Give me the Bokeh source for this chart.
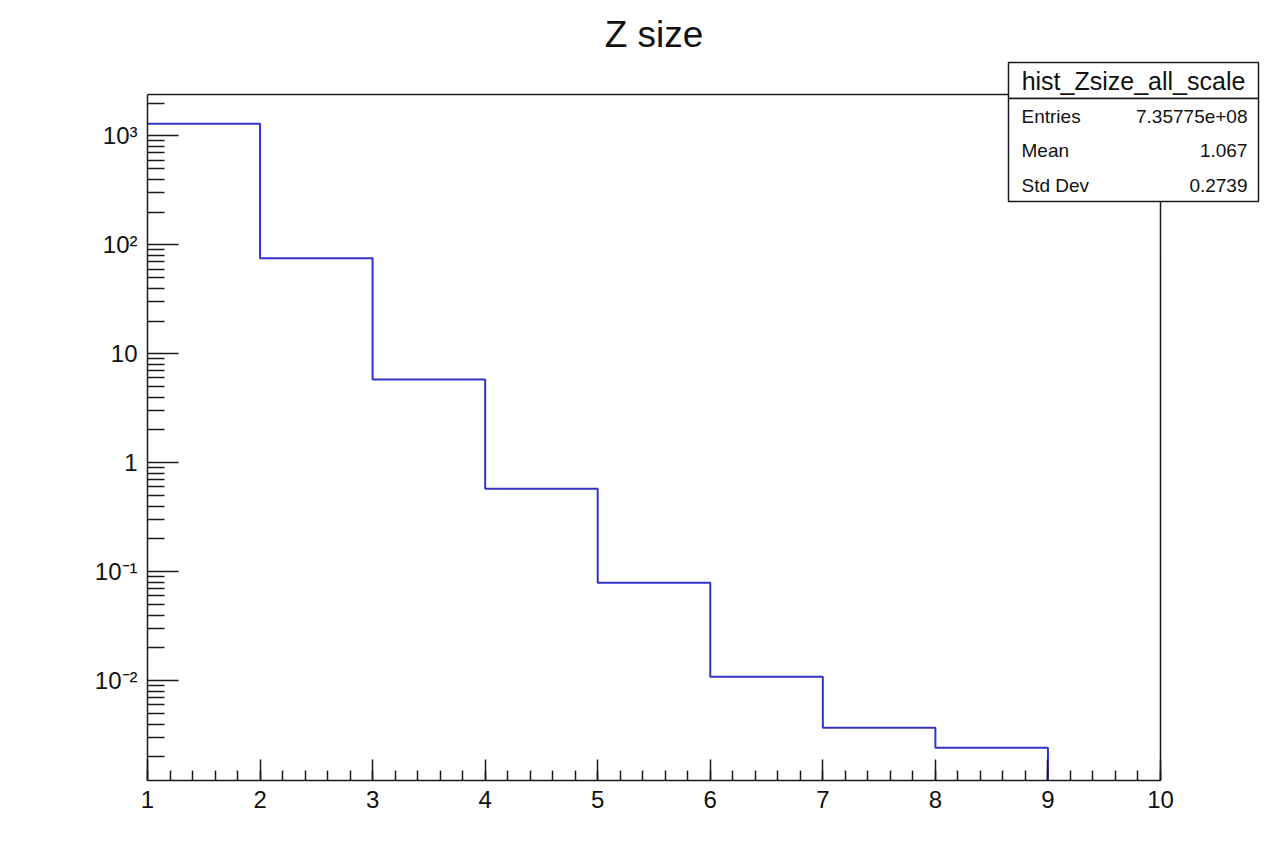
import math
from bokeh.plotting import figure
from bokeh.models import Range1d, FixedTicker, SingleIntervalTicker, BoxAnnotation, Label
from bokeh.embed import file_html
from bokeh.resources import INLINE

# ---- data ----
bin_edges = [1, 2, 3, 4, 5, 6, 7, 8, 9, 10]
bin_counts = [1288, 75.3, 5.81, 0.577, 0.0793, 0.0109, 0.00371, 0.00243, 0]
x_min, x_max = 1, 10
y_min, y_max = 0.001216, 2395

y_major = [1e-2, 1e-1, 1, 10, 100, 1000]
y_labels = ["10\u207b\u00b2", "10\u207b\u00b9", "1", "10", "10\u00b2", "10\u00b3"]
x_major_interval = 1

chart_title = "Z size"
stats_title = "hist_Zsize_all_scale"
stats_names = ["Entries", "Mean", "Std Dev"]
stats_values = ["7.35775e+08", "1.067", "0.2739"]

FONT = "Liberation Sans"
LINE = "#3333cc"
DARK = "#1a1a1a"

# ---- layout (page pixels) ----
W, H = 1268, 860
AX_L, AX_R, AX_T, AX_B = 147, 1160, 94, 780     # the visible axes box
FR_T = 0                                        # the frame reaches the top of the canvas
FR_R = W                                        # ... and the right edge

px_per_x = (AX_R - AX_L) / (x_max - x_min)
x_hi = x_max + (FR_R - AX_R) / px_per_x
px_per_dec = (AX_B - AX_T) / math.log10(y_max / y_min)
y_hi = y_max * 10 ** ((AX_T - FR_T) / px_per_dec)

p = figure(width=W, height=H,
           x_range=Range1d(x_min, x_hi), y_range=Range1d(y_min, y_hi),
           y_axis_type="log", output_backend="svg", toolbar_location=None,
           min_border_left=AX_L, min_border_right=W - FR_R,
           min_border_top=FR_T, min_border_bottom=H - AX_B)

p.background_fill_color = "white"
p.border_fill_color = "white"
p.outline_line_color = None
p.xgrid.visible = False
p.ygrid.visible = False

# top and right sides of the axes box
p.line([x_min, x_max, x_max], [y_max, y_max, y_min], line_color=DARK, line_width=1.5)

# step outline of the histogram
xs, ys = [], []
for i, c in enumerate(bin_counts):
    if c > 0:
        xs += [bin_edges[i], bin_edges[i + 1]]
        ys += [c, c]
    else:
        xs.append(bin_edges[i])
        ys.append(y_min)
        break
p.line(xs, ys, line_color=LINE, line_width=2)

# axes
xa = p.xaxis[0]
xa.ticker = SingleIntervalTicker(interval=x_major_interval, num_minor_ticks=5)
xa.bounds = (x_min, x_max)
xa.major_tick_in = 21
xa.major_tick_out = 0
xa.minor_tick_in = 10
xa.minor_tick_out = 0
xa.major_label_standoff = 10
ya = p.yaxis[0]
y_minor = [m * 10.0 ** k for k in range(-3, 4) for m in range(2, 10)
           if y_min <= m * 10.0 ** k <= y_max]
ya.ticker = FixedTicker(ticks=y_major, minor_ticks=y_minor)
ya.bounds = (y_min, y_max)
ya.major_label_overrides = {t: l for t, l in zip(y_major, y_labels)}
ya.major_tick_in = 31
ya.major_tick_out = 0
ya.minor_tick_in = 17
ya.minor_tick_out = 0
ya.major_label_standoff = 10
for ax in (xa, ya):
    ax.axis_line_color = DARK
    ax.axis_line_width = 1.5
    ax.major_tick_line_color = DARK
    ax.minor_tick_line_color = DARK
    ax.major_tick_line_width = 1.5
    ax.minor_tick_line_width = 1.5
    ax.major_label_text_font = FONT
    ax.major_label_text_font_size = "24px"
    ax.major_label_text_color = "#111111"

# screen helpers (page px -> frame-relative screen units)
def sx(px):
    return px - AX_L
def sy_text(py, fs):
    # baseline position, corrected for how the label box is anchored
    return AX_B - py + 0.37 * fs
def sy(py):
    return AX_B - py

def text(x_px, base_px, s, fs, align):
    p.add_layout(Label(x=sx(x_px), y=sy_text(base_px, fs), x_units="screen", y_units="screen",
                       text=s, text_align=align, text_baseline="alphabetic",
                       text_font=FONT, text_font_size=f"{fs}px", text_color="#111111",
                       level="overlay"))

text((AX_L + AX_R) / 2, 48, chart_title, 37, "center")

# stats box
BX_L, BX_R, BX_T, BX_S, BX_B = 1008, 1258, 62, 98, 201
for top, bottom in ((BX_T, BX_S), (BX_S, BX_B)):
    p.add_layout(BoxAnnotation(left=sx(BX_L), right=sx(BX_R), top=sy(top), bottom=sy(bottom),
                               left_units="screen", right_units="screen",
                               top_units="screen", bottom_units="screen",
                               fill_color="white", fill_alpha=1.0,
                               line_color=DARK, line_alpha=1.0, line_width=1.5,
                               level="overlay"))
text((BX_L + BX_R) / 2, 90, stats_title, 25, "center")
row_baselines = [123, 157, 192]
for name, val, b in zip(stats_names, stats_values, row_baselines):
    text(1021, b, name, 19, "left")
    text(1247, b, val, 19, "right")

open("out.html", "w").write(file_html(p, INLINE))
